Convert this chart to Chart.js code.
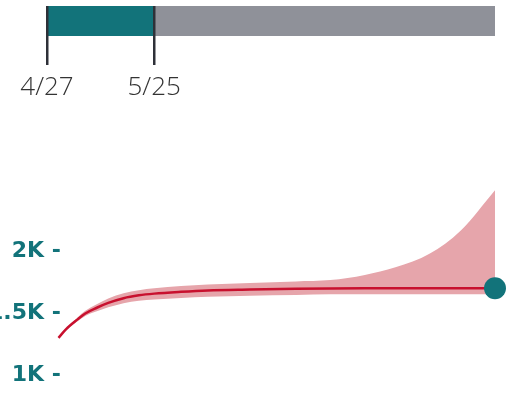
<!DOCTYPE html>
<html><head><meta charset="utf-8">
<script src="https://cdn.jsdelivr.net/npm/chart.js@4/dist/chart.umd.min.js"></script>
<style>
html,body{margin:0;padding:0;background:#fff;overflow:hidden;width:510px;height:407px}
#top{position:absolute;left:0;top:0;width:510px;height:110px}
#main{position:absolute;left:0;top:150px;width:510px;height:257px}
</style></head><body>
<div id="top"><canvas id="c1"></canvas></div>
<div id="main"><canvas id="c2"></canvas></div>
<script>
// ---- timeline (days since 4/27) ----
const timelineTotalDays = 117;
const timelineSegments = [28, 89];          // elapsed, remaining
const timelineTicks = [0, 28];
const timelineLabels = ['4/27', '5/25'];

// ---- projection (x = days since 4/27) ----
const days  = [3, 5, 8, 10, 13, 16, 20, 24, 28, 35, 42, 53, 65, 74, 83, 91, 100, 108, 117];
const mean  = [1300, 1370, 1449, 1497, 1543, 1582, 1620, 1643, 1657, 1672, 1683, 1690, 1696, 1699, 1700, 1700, 1700, 1700, 1700];
const upper = [1302, 1378, 1465, 1518, 1572, 1618, 1660, 1685, 1700, 1718, 1730, 1742, 1755, 1766, 1808, 1870, 1981, 2165, 2492];
const lower = [1298, 1362, 1433, 1476, 1514, 1546, 1580, 1600, 1610, 1622, 1632, 1640, 1645, 1652, 1652, 1652, 1652, 1652, 1652];
const yTicks  = [1000, 1500, 2000];
const yLabels = ['1K -', '1.5K -', '2K -'];

const TEAL = '#12737a', GRAY = '#8f9199', RED = '#c8102e', PINK = '#e6a5ab';

const pts = (arr) => days.map((d, i) => ({x: d, y: arr[i]}));

new Chart(document.getElementById('c1'), {
  type: 'bar',
  data: {
    labels: [''],
    datasets: [
      {data: [timelineSegments[0]], backgroundColor: TEAL, borderWidth: 0, barPercentage: 1, categoryPercentage: 1},
      {data: [timelineSegments[1]], backgroundColor: GRAY, borderWidth: 0, barPercentage: 1, categoryPercentage: 1}
    ]
  },
  options: {
    indexAxis: 'y',
    responsive: true, maintainAspectRatio: false, animation: false, events: [],
    layout: {autoPadding: false, padding: {left: 47, right: 15, top: 6, bottom: 0}},
    plugins: {legend: {display: false}, tooltip: {enabled: false}},
    scales: {
      y: {display: false, stacked: true},
      x: {
        stacked: true, min: 0, max: timelineTotalDays,
        afterBuildTicks: (s) => { s.ticks = timelineTicks.map(v => ({value: v})); },
        afterFit: (s) => { s.height = 74; },
        border: {display: false},
        grid: {display: true, drawOnChartArea: true, drawTicks: true, tickLength: 29, color: '#2e3138', lineWidth: 2.5, z: 1},
        ticks: {
          padding: 7, maxRotation: 0, autoSkip: false, color: '#333333',
          font: {family: 'Open Sans', size: 26, weight: '300'},
          callback: (v) => timelineLabels[timelineTicks.indexOf(v)]
        }
      }
    }
  }
});

new Chart(document.getElementById('c2'), {
  type: 'line',
  data: {
    datasets: [
      {data: [{x: days[days.length - 1], y: mean[mean.length - 1]}], pointRadius: 11, pointBackgroundColor: TEAL, pointBorderWidth: 0, showLine: false, clip: false},
      {data: pts(mean), borderColor: RED, borderWidth: 2.5, pointRadius: 0, fill: false, cubicInterpolationMode: 'monotone'},
      {data: pts(upper), borderWidth: 0, borderColor: 'rgba(0,0,0,0)', pointRadius: 0, fill: '+1', backgroundColor: PINK, cubicInterpolationMode: 'monotone'},
      {data: pts(lower), borderWidth: 0, borderColor: 'rgba(0,0,0,0)', pointRadius: 0, fill: false, cubicInterpolationMode: 'monotone'}
    ]
  },
  options: {
    responsive: true, maintainAspectRatio: false, animation: false, events: [],
    layout: {autoPadding: false, padding: {left: 0, right: 15, top: 2, bottom: 1}},
    plugins: {legend: {display: false}, tooltip: {enabled: false}},
    scales: {
      x: {type: 'linear', display: false, min: 0, max: timelineTotalDays},
      y: {
        min: 750, max: 2800,
        afterBuildTicks: (s) => { s.ticks = yTicks.map(v => ({value: v})); },
        afterFit: (s) => { s.width = 47; },
        border: {display: false},
        grid: {display: false, drawTicks: false},
        ticks: {
          mirror: true, crossAlign: 'far', padding: -59, color: TEAL,
          font: {family: 'DejaVu Sans', size: 22, weight: 'bold'},
          callback: (v) => yLabels[yTicks.indexOf(v)]
        }
      }
    }
  }
});
</script></body></html>
